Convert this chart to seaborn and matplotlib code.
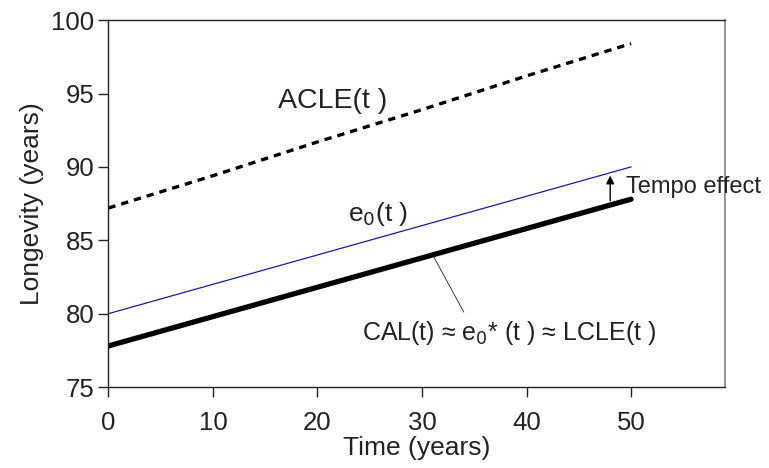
import pandas as pd
import matplotlib.pyplot as plt
import seaborn as sns

# Data
years = [0, 10, 20, 30, 40, 50]
acle = [87.2, 89.4, 91.7, 93.9, 96.2, 98.4]
e0 = [80.0, 82.0, 84.0, 86.0, 88.0, 90.0]
cal = [77.8, 79.8, 81.8, 83.8, 85.8, 87.8]

df = pd.DataFrame({"Time": years, "ACLE": acle, "e0": e0, "CAL": cal})

sns.set_theme(style="white")
plt.rcParams["font.family"] = ["Liberation Sans", "DejaVu Sans"]

fig, ax = plt.subplots(figsize=(7.69, 4.68), dpi=100)
fig.subplots_adjust(left=0.141, right=0.943, top=0.957, bottom=0.173)

sns.lineplot(data=df, x="Time", y="ACLE", ax=ax, color="black", lw=2.4,
             linestyle=(0, (2.2, 1.8)))
sns.lineplot(data=df, x="Time", y="e0", ax=ax, color="#1a1a9a", lw=0.9)
sns.lineplot(data=df, x="Time", y="CAL", ax=ax, color="black", lw=3.8)

ax.set_xlim(0, 59)
ax.set_ylim(75, 100)
ax.set_xticks([0, 10, 20, 30, 40, 50])
ax.set_yticks([75, 80, 85, 90, 95, 100])
ax.tick_params(axis="both", direction="out", length=7, width=1, labelsize=18.5,
               colors="#222222", bottom=True, left=True)
ax.tick_params(axis="x", pad=10)
ax.tick_params(axis="y", pad=3)
for side in ["left", "bottom", "top"]:
    ax.spines[side].set_color("#222222")
    ax.spines[side].set_linewidth(1)
ax.spines["right"].set_color("#888888")

ax.set_xlabel("Time (years)", fontsize=19, color="#222222", labelpad=1)
ax.set_ylabel("Longevity (years)", fontsize=19, color="#222222", labelpad=5)

ax.text(16.2, 94.5, "ACLE(t )", fontsize=20.5, va="center", color="#222222")
ax.text(22.9, 86.8, "e$_0$(t )", fontsize=19, va="center", color="#222222")
ax.text(24.3, 78.7, "CAL(t) ≈ e$_0$* (t ) ≈ LCLE(t )", fontsize=18,
        va="center", color="#222222")
ax.plot([31.1, 34.0], [83.9, 80.1], color="#222222", lw=0.6)

ax.annotate("", xy=(48.0, 89.6), xytext=(48.0, 87.5),
            arrowprops=dict(arrowstyle="-|>", color="black", lw=1,
                            mutation_scale=12))
ax.text(49.5, 88.6, "Tempo effect", fontsize=17, va="center", color="#222222")

fig.savefig("out.png", dpi=100)
